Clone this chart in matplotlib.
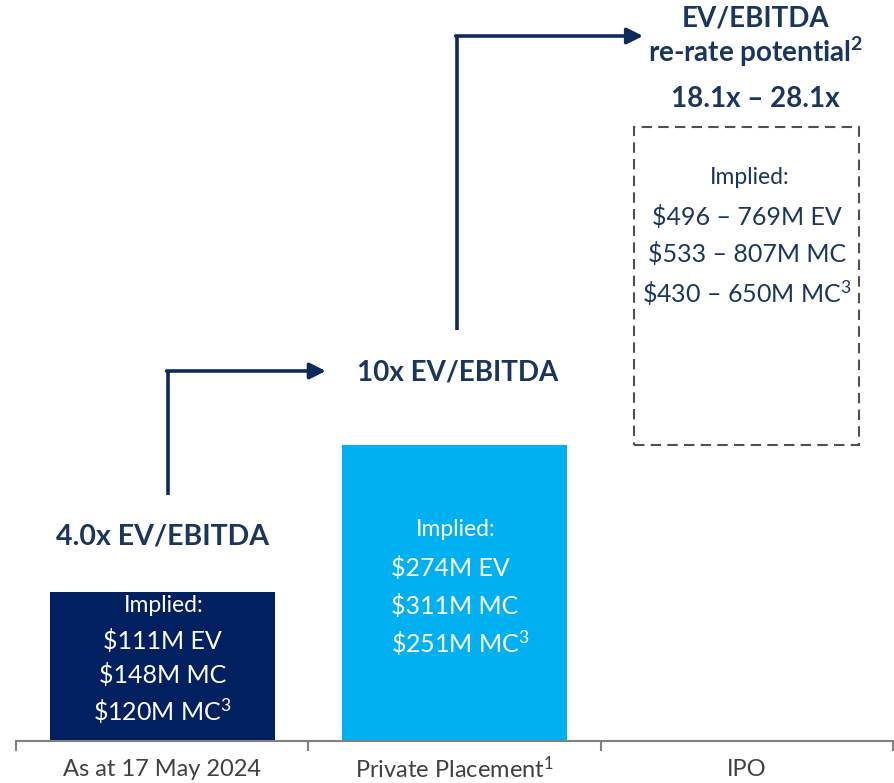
import matplotlib.pyplot as plt

plt.rcParams['font.family'] = ['Lato', 'DejaVu Sans']
plt.rcParams['mathtext.fontset'] = 'custom'
plt.rcParams['mathtext.rm'] = 'Lato'
plt.rcParams['mathtext.it'] = 'Lato:italic'
plt.rcParams['mathtext.bf'] = 'Lato:bold'

# data (heights in relative chart units)
categories = ["As at 17 May 2024", r"Private Placement$^{\mathrm{1}}$", "IPO"]
bar_heights = [149, 296]
ipo_low, ipo_high = 296, 614
bar_colors = ["#002060", "#00B0F0"]
multiples = ["4.0x EV/EBITDA", "10x EV/EBITDA"]
implied = [
    ["$111M EV", "$148M MC", r"\$120M MC$^{\mathrm{3}}$"],
    ["$274M EV", "$311M MC", r"\$251M MC$^{\mathrm{3}}$"],
    ["$496 \u2013 769M EV", "$533 \u2013 807M MC", "\\$430 \u2013 650M MC$^{\\mathrm{3}}$"],
]
ipo_title = ["EV/EBITDA", r"re-rate potential$^{\mathbf{2}}$", "18.1x \u2013 28.1x"]

navy = "#1b365d"
arrow_c = "#0e2a5c"

fig = plt.figure(figsize=(8.95, 7.83), dpi=100)
ax = fig.add_axes([16 / 895, 42 / 783, 877 / 895, 741 / 783])
ax.set_xlim(-0.5, 2.5)
ax.set_ylim(0, 741)

w = 0.77
ax.bar([0, 1], bar_heights, width=w, color=bar_colors, zorder=2)
ax.bar(2, ipo_high - ipo_low, bottom=ipo_low, width=w, fill=False,
       edgecolor="#505050", linestyle=(0, (5, 3)), linewidth=1.5)

# axis styling
for s in ["top", "left", "right"]:
    ax.spines[s].set_visible(False)
ax.spines["bottom"].set_color("#808080")
ax.spines["bottom"].set_linewidth(1.5)
ax.set_yticks([])
ax.set_xticks([-0.5, 0.5, 1.5, 2.5])
ax.set_xticklabels([])
ax.tick_params(axis="x", direction="out", length=7, width=1.5, color="#808080")
for i, c in enumerate(categories):
    ax.text(i, -28, c, ha="center", va="center", fontsize=17, color="#404040", clip_on=False)

# multiple labels
ax.text(0, 204, multiples[0], ha="center", va="center", fontsize=20.5, fontweight="bold", color=navy)
ax.text(1.01, 368, multiples[1], ha="center", va="center", fontsize=20, fontweight="bold", color=navy)
for txt, y in zip(ipo_title, [722, 689, 642]):
    ax.text(2.03, y, txt, ha="center", va="center", fontsize=20, fontweight="bold", color=navy)

# implied text
ax.text(0.005, 135, "Implied:", ha="center", va="center", fontsize=16.5, color="white")
for txt, y in zip(implied[0], [100, 66, 30]):
    ax.text(0.0, y, txt, ha="center", va="center", fontsize=18, color="white")
ax.text(1.005, 211, "Implied:", ha="center", va="center", fontsize=16.5, color="white")
for txt, y in zip(implied[1], [173, 135, 98]):
    ax.text(0.783, y, txt, ha="left", va="center", fontsize=18, color="white")
ax.text(2.01, 563, "Implied:", ha="center", va="center", fontsize=16.5, color=navy)
for txt, y in zip(implied[2], [524, 487, 448]):
    ax.text(2.0, y, txt, ha="center", va="center", fontsize=18, color=navy)

# step arrows
ax.plot([0.02, 0.02], [246, 370], color=arrow_c, lw=2.6, solid_capstyle="butt")
ax.annotate("", xy=(0.56, 370), xytext=(0.015, 370),
            arrowprops=dict(arrowstyle="-|>", color=arrow_c, lw=2.6, mutation_scale=24, shrinkA=0, shrinkB=0))
ax.plot([1.009, 1.009], [411, 705], color=arrow_c, lw=2.6, solid_capstyle="butt")
ax.annotate("", xy=(1.645, 705), xytext=(1.004, 705),
            arrowprops=dict(arrowstyle="-|>", color=arrow_c, lw=2.6, mutation_scale=24, shrinkA=0, shrinkB=0))

plt.savefig("out.png", dpi=100)
